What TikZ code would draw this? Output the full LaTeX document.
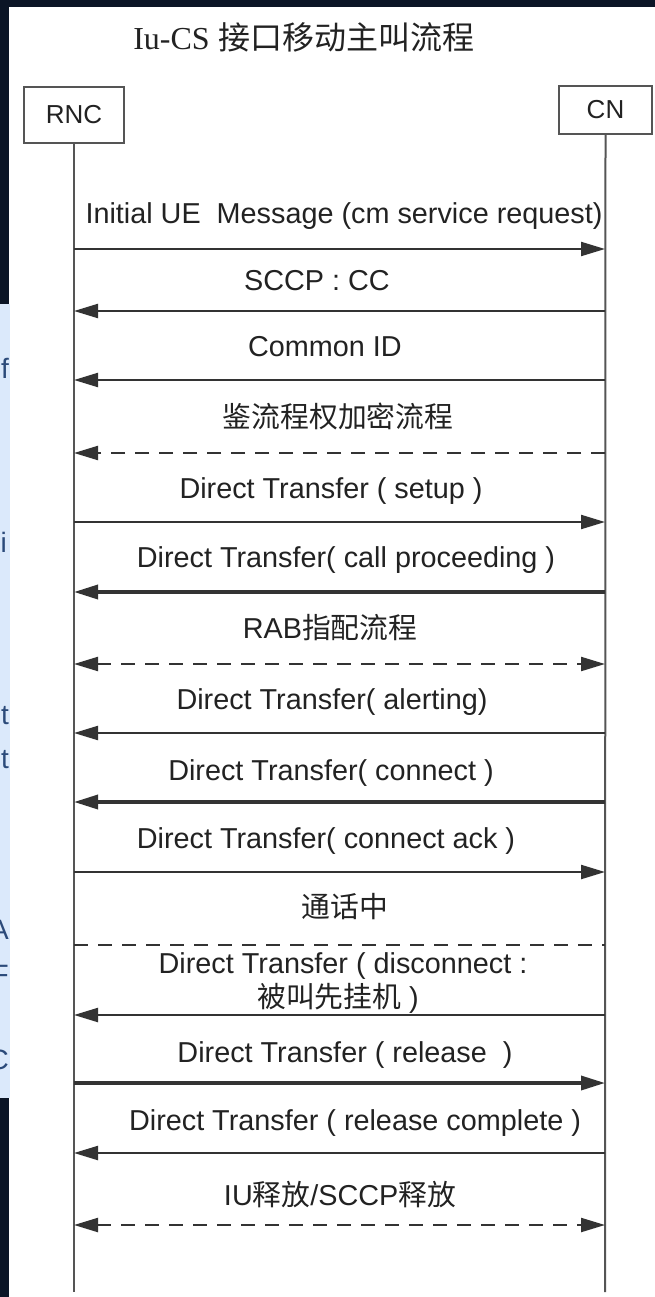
\documentclass[tikz,border=0pt]{standalone}
\usepackage{fontspec}
\setmainfont{Liberation Sans}
\newfontfamily\cjk{Noto Sans CJK SC}
\newfontfamily\serifft{Liberation Serif}
\usetikzlibrary{arrows.meta}
\newcommand{\zh}[1]{{\cjk #1}}
\definecolor{darkbg}{HTML}{0B1526}
\definecolor{panel}{HTML}{DBE9FB}
\definecolor{txt}{HTML}{222222}
\definecolor{ln}{HTML}{333333}
\definecolor{life}{HTML}{555555}
\definecolor{panletter}{HTML}{2B4A7A}
\begin{document}
\begin{tikzpicture}[x=1pt,y=-1pt,
  lbl/.style={font=\fontsize{28.8}{34}\selectfont, text=txt, inner sep=0pt, anchor=base},
  actor/.style={draw=life, line width=2pt, fill=white, inner sep=0pt, font=\fontsize{26}{30}\selectfont, text=txt},
  lifeline/.style={draw=life, line width=2pt},
  tip/.style={-{Triangle[length=24pt,width=14pt]}},
  bitip/.style={{Triangle[length=24pt,width=14pt]}-{Triangle[length=24pt,width=14pt]}},
  msg/.style={draw=ln, line width=2.2pt},
  thickmsg/.style={draw=ln, line width=3.4pt},
  dashmsg/.style={draw=ln, line width=2.2pt, dash pattern=on 14pt off 10pt},
  pl/.style={font=\fontsize{28}{32}\selectfont, text=panletter, inner sep=0pt, anchor=east}
]
% background
\fill[darkbg] (0,0) rectangle (655,1297);
\useasboundingbox (0,0) rectangle (655,1297);
\fill[white] (9,7) rectangle (655,1297);
\fill[panel] (0,304) rectangle (10,1098);
\begin{scope}
  \clip (0,304) rectangle (10,1098);
  \node[pl] (p1) at (9,368) {f};
  \node[pl] (p2) at (7,542) {i};
  \node[pl] (p3) at (9,716) {t};
  \node[pl] (p4) at (9,760) {t};
  \node[pl] (p5) at (9,930) {A};
  \node[pl] (p6) at (9,975) {F};
  \node[pl] (p7) at (9,1060) {C};
\end{scope}

% title
\node[inner sep=0pt, text=txt, font=\fontsize{32}{36}\selectfont] (title) at (304,37) {{\serifft Iu-CS} \zh{接口移动主叫流程}};

% actors
\node[actor, minimum width=100pt, minimum height=56pt] (rnc) at (74,115) {RNC};
\node[actor, minimum width=93pt, minimum height=48pt] (cn) at (605.5,110) {CN};
\coordinate (rend) at (74,1292);
\coordinate (cend) at (605,1292);
\draw[lifeline] (rnc.south) -- (rend);
\draw[lifeline] (cn.south) -- (cend);

% message coordinates
\foreach \n/\y in {1/249,2/311,3/380,4/453,5/522,6/592,7/664,8/733,9/802,10/872,11/945,12/1015,13/1083,14/1153,15/1225}{
  \coordinate (r\n) at (74,\y);
  \coordinate (c\n) at (605,\y);
}

% messages
\draw[msg,tip] (r1) -- (c1);
\node[lbl] (l1) at (344,224) {Initial UE\ \ Message (cm service request)};

\draw[msg,tip] (c2) -- (r2);
\node[lbl] (l2) at (317,290) {SCCP : CC};

\draw[msg,tip] (c3) -- (r3);
\node[lbl] (l3) at (325,356) {Common ID};

\draw[dashmsg,tip] (c4) -- (r4);
\node[lbl] (l4) at (338,427) {\zh{鉴流程权加密流程}};

\draw[msg,tip] (r5) -- (c5);
\node[lbl] (l5) at (331,498) {Direct Transfer ( setup )};

\draw[thickmsg,tip] (c6) -- (r6);
\node[lbl] (l6) at (346,567) {Direct Transfer( call proceeding )};

\draw[dashmsg,bitip] (r7) -- (c7);
\node[lbl] (l7) at (330,638) {RAB\zh{指配流程}};

\draw[msg,tip] (c8) -- (r8);
\node[lbl] (l8) at (332,709) {Direct Transfer( alerting)};

\draw[thickmsg,tip] (c9) -- (r9);
\node[lbl] (l9) at (331,780) {Direct Transfer( connect )};

\draw[msg,tip] (r10) -- (c10);
\node[lbl] (l10) at (326,848) {Direct Transfer( connect ack )};

\draw[dashmsg] (r11) -- (c11);
\node[lbl] (l11) at (345,917) {\zh{通话中}};

\draw[msg,tip] (c12) -- (r12);
\node[lbl] (l12a) at (343,973) {Direct Transfer ( disconnect :};
\node[lbl] (l12b) at (338,1007) {\zh{被叫先挂机} )};

\draw[thickmsg,tip] (r13) -- (c13);
\node[lbl] (l13) at (345,1062) {Direct Transfer ( release\ \ )};

\draw[msg,tip] (c14) -- (r14);
\node[lbl] (l14) at (355,1130) {Direct Transfer ( release complete )};

\draw[dashmsg,bitip] (r15) -- (c15);
\node[lbl] (l15) at (340,1205) {IU\zh{释放}/SCCP\zh{释放}};
\end{tikzpicture}
\end{document}
